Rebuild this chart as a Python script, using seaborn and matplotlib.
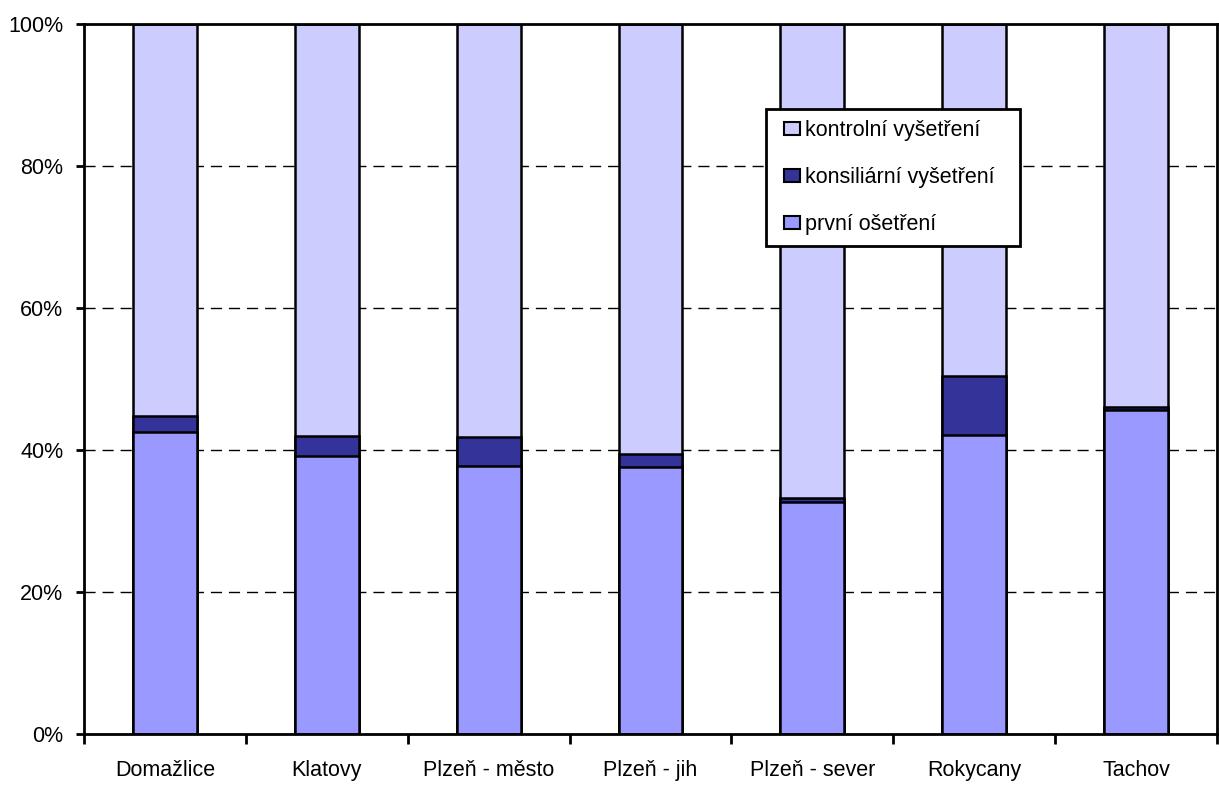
import matplotlib
matplotlib.use("Agg")
import matplotlib.pyplot as plt
from matplotlib.patches import Patch, Rectangle
from matplotlib.legend_handler import HandlerPatch
import seaborn as sns
import pandas as pd
import numpy as np

categories = ["Domažlice", "Klatovy", "Plzeň - město", "Plzeň - jih", "Plzeň - sever", "Rokycany", "Tachov"]
prvni = [42.6, 39.2, 37.8, 37.6, 32.7, 42.1, 45.7]
konsiliarni = [2.2, 2.8, 4.1, 1.9, 0.5, 8.3, 0.4]
kontrolni = [100 - p - k for p, k in zip(prvni, konsiliarni)]
series_names = ["kontrolní vyšetření", "konsiliární vyšetření", "první ošetření"]
colors = ["#CCCCFF", "#333399", "#9999FF"]
yticks = [0, 20, 40, 60, 80, 100]
ytick_labels = ["0%", "20%", "40%", "60%", "80%", "100%"]

sns.set_theme(style="white")
plt.rcParams["font.family"] = ["Liberation Sans", "DejaVu Sans"]
plt.rcParams["text.color"] = "black"

FS = 15.5

fig = plt.figure(figsize=(12.19, 7.87), dpi=100)
ax = fig.add_axes([84 / 1219, 53 / 787, 1133 / 1219, 710 / 787])

df = pd.DataFrame({"cat": categories, "prvni": prvni, "kons": konsiliarni, "kontr": kontrolni})
df["top1"] = df["prvni"]
df["top2"] = df["prvni"] + df["kons"]
df["top3"] = df["top2"] + df["kontr"]

for col, color in [("top3", colors[0]), ("top2", colors[1]), ("top1", colors[2])]:
    sns.barplot(data=df, x="cat", y=col, color=color, width=0.395, ax=ax,
                edgecolor="black", linewidth=1.8, saturation=1, zorder=3)

ax.set_xlim(-0.5, len(categories) - 0.5)
ax.set_ylim(0, 100)
ax.set_yticks(yticks)
ax.set_yticklabels(ytick_labels)
ax.set_xlabel("")
ax.set_ylabel("")

for y in yticks[1:-1]:
    ax.axhline(y, color="black", linestyle=(0, (8, 5)), linewidth=1, zorder=1)

for s in ax.spines.values():
    s.set_color("black")
    s.set_linewidth(2)
    s.set_zorder(4)

ax.set_xticks(np.arange(len(categories)))
ax.set_xticklabels(categories)
ax.tick_params(axis="x", which="major", length=0, pad=19, labelsize=FS, labelcolor="black")
ax.set_xticks(np.arange(-0.5, len(categories), 1), minor=True)
ax.tick_params(axis="x", which="minor", length=7, width=2, color="black", direction="out", bottom=True)
ax.tick_params(axis="y", length=6, width=2, color="black", direction="out", left=True,
               labelsize=FS, pad=9, labelcolor="black")


def square_handle(legend, orig_handle, xdescent, ydescent, width, height, fontsize):
    w, h = 11.5, 9.4
    return Rectangle((-xdescent + width - w, -ydescent + (height - h) / 2), w, h)


handles = [Patch(facecolor=c, edgecolor="black", linewidth=1.5, label=n) for n, c in zip(series_names, colors)]
leg = ax.legend(handles=handles, loc="upper left", bbox_to_anchor=(0.602, 0.8805, 254 / 1133, 0.0),
                mode="expand", frameon=True, fancybox=False, edgecolor="black", facecolor="white",
                framealpha=1, fontsize=FS, handlelength=1.05, handleheight=0.62, handletextpad=0.25,
                labelspacing=1.2, borderpad=0.52, borderaxespad=0,
                handler_map={Patch: HandlerPatch(patch_func=square_handle)})
leg.get_frame().set_linewidth(2)
leg.set_zorder(5)
for t in leg.get_texts():
    t.set_color("black")

fig.savefig("out.png", dpi=100)
